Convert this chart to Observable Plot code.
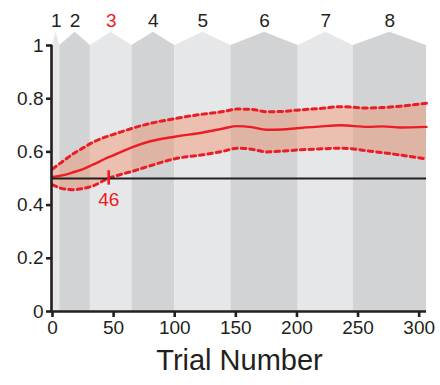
<!DOCTYPE html>
<html>
<head>
<meta charset="utf-8">
<script src="https://cdn.jsdelivr.net/npm/d3@7"></script>
<script src="https://cdn.jsdelivr.net/npm/@observablehq/plot@0.6"></script>
<style>
  html, body { margin: 0; padding: 0; background: #fff; }
</style>
</head>
<body>
<div id="chart"></div>
<script>
// Blocks (trial ranges) shown as shaded columns
const blockLabels = ["1", "2", "3", "4", "5", "6", "7", "8"];
const blockStart = [0, 6, 31, 65, 100, 146, 201, 246];
const blockEnd   = [6, 31, 65, 100, 146, 201, 246, 306];
const blockFill  = ["#e6e7e8", "#d1d3d4", "#e6e7e8", "#d1d3d4", "#e6e7e8", "#d1d3d4", "#e6e7e8", "#d1d3d4"];
const blockLabelColor = ["#231f20", "#231f20", "#ed1c24", "#231f20", "#231f20", "#231f20", "#231f20", "#231f20"];

// Learning curve: mean and confidence bounds
const trials = [0, 8, 16, 25, 33, 46, 52, 66, 80, 101, 123, 140, 151, 163, 175, 188, 200, 218, 236, 258, 270, 285, 306];
const meanVals  = [0.506, 0.512, 0.522, 0.535, 0.552, 0.580, 0.592, 0.619, 0.640, 0.658, 0.673, 0.688, 0.697, 0.693, 0.683, 0.684, 0.689, 0.695, 0.700, 0.694, 0.696, 0.692, 0.694];
const upperVals = [0.536, 0.563, 0.590, 0.615, 0.636, 0.660, 0.669, 0.690, 0.707, 0.726, 0.742, 0.752, 0.761, 0.760, 0.751, 0.752, 0.757, 0.763, 0.770, 0.765, 0.767, 0.772, 0.783];
const lowerVals = [0.476, 0.462, 0.458, 0.462, 0.472, 0.501, 0.510, 0.528, 0.548, 0.575, 0.589, 0.603, 0.614, 0.610, 0.600, 0.603, 0.607, 0.611, 0.614, 0.604, 0.597, 0.588, 0.573];

const chance = 0.5;
const criterionTrial = 46;
const xTicks = [0, 50, 100, 150, 200, 250, 300];
const yTicks = [0, 0.2, 0.4, 0.6, 0.8, 1];
const blockTop = 1;
const blockPeak = 1.05;
const labelLevel = 1.093;

const curve = trials.map((t, i) => ({t, mean: meanVals[i], lo: lowerVals[i], hi: upperVals[i]}));

const blockShapes = [];
blockLabels.forEach((b, i) => {
  const mid = (blockStart[i] + blockEnd[i]) / 2;
  blockShapes.push({block: b, x: blockStart[i], y: blockTop, fill: blockFill[i]});
  blockShapes.push({block: b, x: mid, y: blockPeak, fill: blockFill[i]});
  blockShapes.push({block: b, x: blockEnd[i], y: blockTop, fill: blockFill[i]});
});
const blockText = blockLabels.map((b, i) => ({
  label: b, x: (blockStart[i] + blockEnd[i]) / 2, color: blockLabelColor[i]
}));

const red = "#ed1c24";
const fmtY = d => (d === 0 || d === 1) ? String(d) : d.toFixed(1);

const chart = Plot.plot({
  width: 440,
  height: 385,
  marginLeft: 52,
  marginRight: 14,
  marginTop: 45,
  marginBottom: 74,
  x: {domain: [0, 306]},
  y: {domain: [0, 1]},
  color: {type: "identity"},
  style: {fontFamily: "Arial, 'Liberation Sans', Helvetica, sans-serif", fontSize: "19px", color: "#231f20", background: "#fff"},
  marks: [
    Plot.areaY(blockShapes, {x: "x", y1: 0, y2: "y", z: "block", fill: "fill", curve: "linear"}),
    Plot.text(blockText, {x: "x", y: labelLevel, text: "label", fill: "color", fontSize: 19}),
    Plot.areaY(curve, {x: "t", y1: "lo", y2: "hi", fill: "#f2885e", fillOpacity: 0.4, curve: "monotone-x"}),
    Plot.line(curve, {x: "t", y: "hi", stroke: red, strokeWidth: 3, strokeDasharray: "4.5,4", curve: "monotone-x"}),
    Plot.line(curve, {x: "t", y: "lo", stroke: red, strokeWidth: 3, strokeDasharray: "4.5,4", curve: "monotone-x"}),
    Plot.line(curve, {x: "t", y: "mean", stroke: red, strokeWidth: 2.4, curve: "monotone-x"}),
    Plot.ruleY([chance], {stroke: "#231f20", strokeWidth: 1.8}),
    Plot.ruleX([criterionTrial], {y1: chance - 0.025, y2: chance + 0.029, stroke: red, strokeWidth: 2.6}),
    Plot.text([criterionTrial], {x: d => d, y: chance, text: d => String(d), fill: red, fontSize: 19, dy: 21}),
    Plot.ruleX([0], {stroke: "#231f20", strokeWidth: 2.6, dx: -1}),
    Plot.ruleY([0], {stroke: "#231f20", strokeWidth: 2.6}),
    Plot.axisY({ticks: yTicks, tickFormat: fmtY, tickSize: 6, tickPadding: 3, strokeWidth: 2.6, label: null, fontSize: 19}),
    Plot.axisX({ticks: xTicks, tickSize: 6, tickPadding: 3, strokeWidth: 2.6, label: null, fontSize: 19}),
    Plot.text(["Trial Number"], {frameAnchor: "bottom", dy: 58, text: d => d, fontSize: 29, fill: "#231f20"})
  ]
});
document.getElementById("chart").appendChild(chart);
</script>
</body>
</html>
